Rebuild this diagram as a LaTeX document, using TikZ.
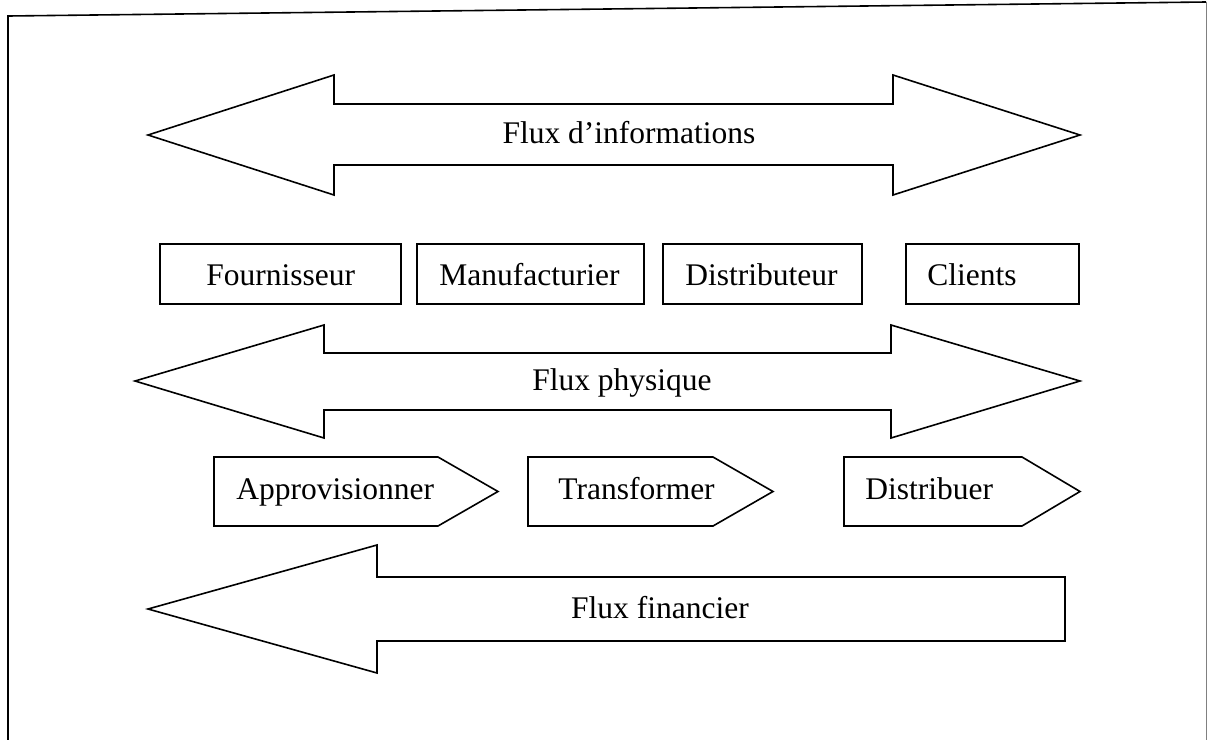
\documentclass[tikz,border=0pt]{standalone}
\usepackage{fontspec}
\setmainfont{Liberation Serif}
\usetikzlibrary{positioning}

\tikzset{
  flux/.style={draw,line width=0.8pt},
  lbl/.style={font=\fontsize{15.75}{18}\selectfont,inner sep=0pt}
}

\begin{document}
\begin{tikzpicture}[line join=miter,x=0.5pt,y=-0.5pt]

\useasboundingbox (0,0) rectangle (1207,740);

\coordinate (B1) at (8,740);
\coordinate (B2) at (8,16);
\coordinate (B3) at (1206,2);
\coordinate (B4) at (1206,740);

\draw[line width=0.8pt] (B1)--(B2)--(B3);
\draw[gray,line width=0.5pt] (B3)--(B4);

\begin{scope}

\coordinate (I1) at (148,135);
\coordinate (I2) at (334,75);
\coordinate (I3) at (334,104);
\coordinate (I4) at (893,104);
\coordinate (I5) at (893,75);
\coordinate (I6) at (1080,135);
\coordinate (I7) at (893,195);
\coordinate (I8) at (893,165);
\coordinate (I9) at (334,165);
\coordinate (I10) at (334,195);

\draw[flux] (I1)--(I2)--(I3)--(I4)--(I5)--(I6)--(I7)--(I8)--(I9)--(I10)--cycle;

\node[lbl,anchor=base] (info) at (629,143) {Flux d'informations};

\end{scope}

\begin{scope}

\draw[flux] (160,244) rectangle (401,304);
\draw[flux] (417,244) rectangle (644,304);
\draw[flux] (663,244) rectangle (862,304);
\draw[flux] (906,244) rectangle (1079,304);

\node[lbl,anchor=base west] (fournisseur) at (206,285) {Fournisseur};
\node[lbl,anchor=base west] (manuf) at (439,285) {Manufacturier};
\node[lbl,anchor=base west] (distrib) at (685,285) {Distributeur};
\node[lbl,anchor=base west] (clients) at (927,285) {Clients};

\end{scope}

\begin{scope}

\coordinate (P1) at (135,381);
\coordinate (P2) at (324,325);
\coordinate (P3) at (324,353);
\coordinate (P4) at (891,353);
\coordinate (P5) at (891,325);
\coordinate (P6) at (1080,381);
\coordinate (P7) at (891,438);
\coordinate (P8) at (891,410);
\coordinate (P9) at (324,410);
\coordinate (P10) at (324,438);

\draw[flux] (P1)--(P2)--(P3)--(P4)--(P5)--(P6)--(P7)--(P8)--(P9)--(P10)--cycle;

\node[lbl,anchor=base] (phys) at (622,390) {Flux physique};

\end{scope}

\begin{scope}

\draw[flux] (214,457)--(438,457)--(498,491.5)--(438,526)--(214,526)--cycle;
\draw[flux] (528,457)--(713,457)--(773,491.5)--(713,526)--(528,526)--cycle;
\draw[flux] (844,457)--(1022,457)--(1080,491.5)--(1022,526)--(844,526)--cycle;

\node[lbl,anchor=base west] (approv) at (236,499) {Approvisionner};
\node[lbl,anchor=base west] (transf) at (558,499) {Transformer};
\node[lbl,anchor=base west] (distribuer) at (865,499) {Distribuer};

\end{scope}

\begin{scope}

\coordinate (F1) at (148,609);
\coordinate (F2) at (377,545);
\coordinate (F3) at (377,577);
\coordinate (F4) at (1065,577);
\coordinate (F5) at (1065,641);
\coordinate (F6) at (377,641);
\coordinate (F7) at (377,673);

\draw[flux] (F1)--(F2)--(F3)--(F4)--(F5)--(F6)--(F7)--cycle;

\node[lbl,anchor=base] (fin) at (660,618) {Flux financier};

\end{scope}

\end{tikzpicture}
\end{document}
